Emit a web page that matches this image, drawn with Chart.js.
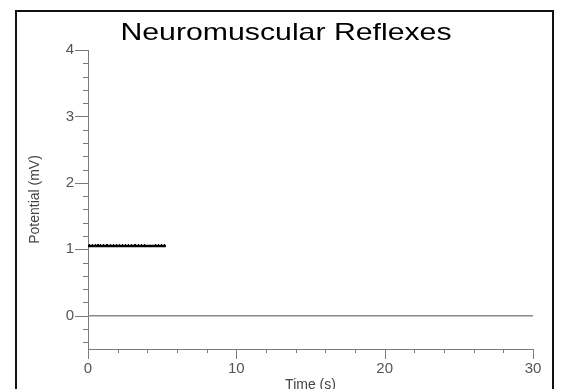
<!DOCTYPE html>
<html>
<head>
<meta charset="utf-8">
<script src="https://cdn.jsdelivr.net/npm/chart.js@4.4.0/dist/chart.umd.min.js"></script>
<style>
html,body{margin:0;padding:0;background:#fff;}
#wrap{width:561px;height:389px;position:relative;}
</style>
</head>
<body>
<div id="wrap"><canvas id="c" width="561" height="389"></canvas></div>
<script>
const chartTitle = "Neuromuscular Reflexes";
const xTitle = "Time (s)";
const yTitle = "Potential (mV)";
// Potential trace (s, mV)
const traceTime = [0, 1.0, 2.0, 3.0, 4.0, 5.25];
const traceValues = [1.05, 1.05, 1.05, 1.05, 1.05, 1.05];
// small noise spikes just above the trace
const noiseTime = [0.1, 0.6, 1.3, 1.9, 2.5, 3.2, 4.5];
const noiseValues = [1.08, 1.08, 1.08, 1.08, 1.08, 1.08, 1.08];
// Baseline
const baseTime = [0, 30];
const baseValues = [0, 0];
const xMin = 0, xMax = 30, xStep = 10, xMinorStep = 2;
const yMin = -0.5, yMax = 4, yStep = 1, yMinorStep = 0.2;

const toPts = (xs, ys) => xs.map((x, i) => ({x: x, y: ys[i]}));

const framePlugin = {
  id: 'frame',
  beforeDraw(chart) {
    const ctx = chart.ctx;
    ctx.save();
    ctx.strokeStyle = '#111';
    ctx.lineWidth = 2;
    ctx.strokeRect(16, 11, 537, 400);
    ctx.restore();
  },
  afterDraw(chart) {
    const ctx = chart.ctx;
    const ca = chart.chartArea;
    const xs = chart.scales.x, ys = chart.scales.y;
    ctx.save();
    ctx.strokeStyle = '#7a7a7a';
    ctx.lineWidth = 1;
    // y ticks
    for (let k = Math.ceil(yMin / yMinorStep); k * yMinorStep <= yMax + 1e-9; k++) {
      const v = k * yMinorStep;
      const major = Math.abs(v - Math.round(v)) < 1e-6;
      const py = Math.round(ys.getPixelForValue(v)) + 0.5;
      ctx.beginPath();
      ctx.moveTo(ca.left, py);
      ctx.lineTo(ca.left - (major ? 13 : 5), py);
      ctx.stroke();
    }
    // x ticks
    for (let k = 0; k * xMinorStep <= xMax + 1e-9; k++) {
      const v = k * xMinorStep;
      const major = Math.abs(v / xStep - Math.round(v / xStep)) < 1e-6;
      const px = Math.round(xs.getPixelForValue(v)) + 0.5;
      ctx.beginPath();
      ctx.moveTo(px, ca.bottom);
      ctx.lineTo(px, ca.bottom + (major ? 10 : 4));
      ctx.stroke();
    }
    // noise dots
    ctx.fillStyle = '#000';
    for (let i = 0; i < noiseTime.length; i++) {
      const px = xs.getPixelForValue(noiseTime[i]);
      const py = ys.getPixelForValue(noiseValues[i]);
      for (let d = 0; d < 4; d++) ctx.fillRect(Math.round(px) + d * 3, Math.round(py), 1, 1);
    }
    // title
    ctx.fillStyle = '#000';
    ctx.font = '24px "Liberation Sans", Arial, sans-serif';
    ctx.textAlign = 'center';
    ctx.textBaseline = 'alphabetic';
    ctx.translate(286, 40);
    ctx.scale(1.26, 1);
    ctx.fillText(chartTitle, 0, 0);
    ctx.restore();
  }
};

new Chart(document.getElementById('c'), {
  type: 'scatter',
  data: {
    datasets: [
      {
        data: toPts(baseTime, baseValues),
        showLine: true,
        borderColor: '#8a8a8a',
        borderWidth: 1.5,
        pointRadius: 0,
        tension: 0
      },
      {
        data: toPts(traceTime, traceValues),
        showLine: true,
        borderColor: '#000',
        borderWidth: 2.5,
        pointRadius: 0,
        tension: 0
      }
    ]
  },
  plugins: [framePlugin],
  options: {
    responsive: false,
    animation: false,
    events: [],
    layout: {padding: {left: 27, right: 28, top: 50, bottom: 0}},
    plugins: {legend: {display: false}, tooltip: {enabled: false}, title: {display: false}},
    scales: {
      x: {
        type: 'linear',
        min: xMin, max: xMax,
        grid: {display: false, drawTicks: false},
        border: {display: true, color: '#7a7a7a', width: 1},
        ticks: {stepSize: xStep, padding: 11, color: '#555', font: {family: '"Liberation Sans", Arial, sans-serif', size: 15}, maxRotation: 0},
        title: {display: true, text: xTitle, color: '#444', font: {family: '"Liberation Sans", Arial, sans-serif', size: 14}, padding: {top: 0, bottom: -5}},
        afterFit(s) { s.height = 40; }
      },
      y: {
        type: 'linear',
        min: yMin, max: yMax,
        grid: {display: false, drawTicks: false},
        border: {display: true, color: '#7a7a7a', width: 1},
        ticks: {stepSize: yStep, includeBounds: false, padding: 14, color: '#555', font: {family: '"Liberation Sans", Arial, sans-serif', size: 15},
          callback: v => (Math.abs(v - Math.round(v)) < 1e-6 ? String(Math.round(v)) : '')},
        title: {display: true, text: yTitle, color: '#444', font: {family: '"Liberation Sans", Arial, sans-serif', size: 14}, padding: {top: 0, bottom: 0}},
        afterFit(s) { s.width = 61; }
      }
    }
  }
});
</script>
</body>
</html>
